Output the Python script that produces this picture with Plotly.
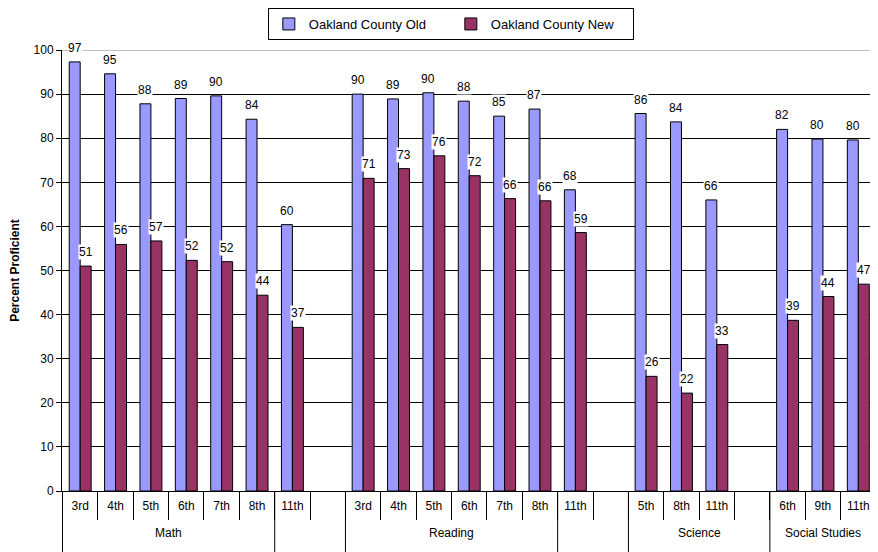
import plotly.graph_objects as go

# category layout: (group, grade); blank slots keep the gaps of the original chart
groups = ["Math"] * 6 + [""] * 2 + ["Reading"] * 6 + [""] * 2 + ["Science"] * 4 + ["Social Studies"] * 3
grades = ["3rd", "4th", "5th", "6th", "7th", "8th", "11th", "",
          "3rd", "4th", "5th", "6th", "7th", "8th", "11th", "",
          "5th", "8th", "11th", "",
          "6th", "9th", "11th"]

old_vals = [97.3, 94.6, 87.8, 89.0, 89.6, 84.3, 60.4, None,
            90.0, 88.9, 90.3, 88.4, 85.0, 86.6, 68.3, None,
            85.6, 83.7, 66.0, None,
            82.0, 79.8, 79.6]
new_vals = [51.0, 55.9, 56.7, 52.3, 52.0, 44.4, 37.1, None,
            70.9, 73.1, 76.0, 71.5, 66.3, 65.8, 58.6, None,
            26.0, 22.2, 33.2, None,
            38.7, 44.1, 46.9]

FONT = "Arial, Liberation Sans, sans-serif"

# unique category ids, shown with the grade only
cats = [f"{i}|{g}|{s}" for i, (g, s) in enumerate(zip(groups, grades))]

fig = go.Figure()

fig.add_trace(go.Bar(
    x=cats, y=old_vals, name="Oakland County Old",
    marker=dict(color="#9999FF", line=dict(color="#000000", width=1)),
))
fig.add_trace(go.Bar(
    x=cats, y=new_vals, name="Oakland County New",
    marker=dict(color="#993366", line=dict(color="#000000", width=1)),
))

# value labels with white boxes
for c, o, n in zip(cats, old_vals, new_vals):
    for v, shift in ((o, -5.5), (n, 5.5)):
        if v is None:
            continue
        fig.add_annotation(
            x=c, y=v, xshift=shift, yshift=6, text=str(round(v)),
            showarrow=False, yanchor="bottom", bgcolor="white",
            borderpad=0, font=dict(family=FONT, size=12, color="black"),
        )

# group labels and group dividers below the axis
starts = [i for i in range(len(groups)) if i == 0 or groups[i] != groups[i - 1]]
ends = starts[1:] + [len(groups)]
for s, e in zip(starts, ends):
    if groups[s]:
        fig.add_annotation(
            x=(s + e - 1) / 2, y=-0.095, xref="x", yref="paper", text=groups[s],
            showarrow=False, yanchor="middle", font=dict(family=FONT, size=12, color="black"),
        )
    fig.add_shape(type="line", xref="x", yref="paper", x0=s - 0.5, x1=s - 0.5,
                  y0=0, y1=-0.15, line=dict(color="black", width=1))

# top line in grey
fig.add_shape(type="line", xref="paper", yref="y", x0=0, x1=1, y0=100, y1=100,
              line=dict(color="#808080", width=1), layer="above")

# the page body adds an 8px margin, so the figure is 8px smaller each way
fig.update_layout(
    width=870, height=544,
    margin=dict(l=54, r=2, t=42, b=61),
    paper_bgcolor="white", plot_bgcolor="white",
    font=dict(family=FONT, size=12, color="black"),
    barmode="group", bargap=0.38, bargroupgap=0,
    showlegend=True,
    legend=dict(
        orientation="h", xref="container", x=0.509, xanchor="center",
        yref="container", y=1.0, yanchor="top",
        bordercolor="black", borderwidth=1, bgcolor="white",
        font=dict(family=FONT, size=13), entrywidth=137,
    ),
    yaxis=dict(
        range=[0, 100], dtick=10, showgrid=True, gridcolor="black", gridwidth=1,
        showline=True, linecolor="black", ticks="outside", ticklen=5,
        tickcolor="black", zeroline=False, automargin=False,
        tickfont=dict(size=12),
        title=dict(text="<b>Percent Proficient</b>", font=dict(size=12), standoff=13),
    ),
    xaxis=dict(
        type="category", showline=True, linecolor="black",
        tickmode="array", tickvals=cats, ticktext=grades,
        ticks="outside", ticklen=28, tickcolor="black", tickson="boundaries",
        ticklabelstandoff=4, tickfont=dict(size=12),
        showgrid=False, automargin=False,
    ),
)

fig.write_html("out.html")
